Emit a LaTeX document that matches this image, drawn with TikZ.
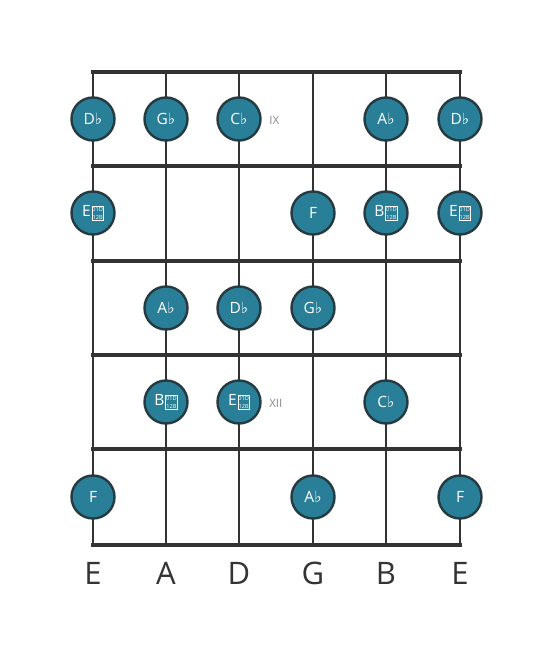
\documentclass[tikz,border=0pt]{standalone}
\usepackage{fontspec}
\setmainfont{Open Sans}
\newfontfamily\symfont{DejaVu Sans}
\definecolor{boardgray}{HTML}{333333}
\definecolor{dotteal}{HTML}{2A7F98}
\definecolor{dotrim}{HTML}{263A42}
\definecolor{labgray}{HTML}{8A8A8A}
\newcommand{\fl}{{\symfont\char"266D}}
\newcommand{\dfl}{{\kern0.8pt\setlength\fboxsep{0.4pt}\setlength\fboxrule{0.5pt}%
 \raisebox{-2.2pt}{\fbox{\fontsize{5.6}{6.4}\selectfont\shortstack{01D\\[0.8pt]12B}}}}}

\begin{document}
\begin{tikzpicture}[x=1pt,y=-1pt,line width=4pt,
 note/.style={circle,minimum size=43pt,inner sep=0pt,fill=dotteal,draw=dotrim,
  line width=2.4pt,text=white,font=\fontsize{15.5}{15.5}\selectfont},
 fretmark/.style={font=\fontsize{11.5}{11.5}\selectfont,text=labgray,anchor=west},
 tuning/.style={font=\fontsize{31}{31}\selectfont,text=boardgray}]

\useasboundingbox (0,0) rectangle (553,656);

% strings and frets
\foreach \s/\x in {1/93,2/166,3/239,4/313,5/386,6/460} {
 \coordinate (T\s) at (\x,72);
 \coordinate (B\s) at (\x,545);
 \draw[boardgray,line width=2.6pt] (T\s) -- (B\s);
}
\foreach \f/\y in {0/72,1/166,2/261,3/355,4/449,5/545} {
 \coordinate (L\f) at (93,\y);
 \coordinate (R\f) at (460,\y);
 \draw[boardgray,line cap=rect] (L\f) -- (R\f);
}

% fret 1
\node[note] (n11) at (93,119) {D\fl};
\node[note] (n12) at (166,119) {G\fl};
\node[note] (n13) at (239,119) {C\fl};
\node[note] (n15) at (386,119) {A\fl};
\node[note] (n16) at (460,119) {D\fl};
\node[fretmark] (ix) at (264,120) {IX};

% fret 2
\node[note] (n21) at (93,213) {E\dfl};
\node[note] (n24) at (313,213) {F};
\node[note] (n25) at (386,213) {B\dfl};
\node[note] (n26) at (460,213) {E\dfl};

% fret 3
\node[note] (n32) at (166,308) {A\fl};
\node[note] (n33) at (239,308) {D\fl};
\node[note] (n34) at (313,308) {G\fl};

% fret 4
\node[note] (n42) at (166,402) {B\dfl};
\node[note] (n43) at (239,402) {E\dfl};
\node[note] (n45) at (386,402) {C\fl};
\node[fretmark] (xii) at (264,403) {XII};

% fret 5
\node[note] (n51) at (93,497) {F};
\node[note] (n54) at (313,497) {A\fl};
\node[note] (n56) at (460,497) {F};

% open strings
\foreach \s/\n in {1/E,2/A,3/D,4/G,5/B,6/E} {
 \node[tuning] (open\s) at ([yshift=-28pt]B\s) {\n};
}

\end{tikzpicture}
\end{document}
